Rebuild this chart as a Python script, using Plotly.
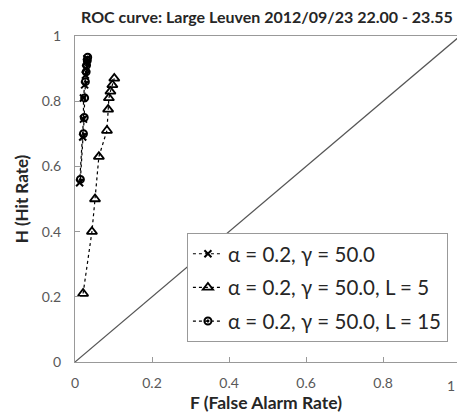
import plotly.graph_objects as go

# ROC points (False Alarm Rate F, Hit Rate H) for each parameter setting
f_base = [0.012, 0.020, 0.022, 0.022, 0.025, 0.027, 0.028, 0.030, 0.031]
h_base = [0.55, 0.69, 0.745, 0.81, 0.85, 0.88, 0.90, 0.92, 0.93]

f_l5 = [0.021, 0.044, 0.052, 0.062, 0.083, 0.086, 0.088, 0.092, 0.097, 0.102]
h_l5 = [0.21, 0.40, 0.50, 0.63, 0.71, 0.775, 0.81, 0.83, 0.85, 0.87]

f_l15 = [0.014, 0.022, 0.024, 0.025, 0.027, 0.029, 0.030, 0.032, 0.033]
h_l15 = [0.56, 0.70, 0.75, 0.81, 0.86, 0.89, 0.91, 0.925, 0.935]

names = ["α = 0.2, γ = 50.0", "α = 0.2, γ = 50.0, L = 5", "α = 0.2, γ = 50.0, L = 15"]

# no-skill diagonal
diag = [0, 1]

x_ticks = [0, 0.2, 0.4, 0.6, 0.8]
y_ticks = [0, 0.2, 0.4, 0.6, 0.8, 1]

font = "Lato, 'Open Sans', sans-serif"
grey = "#595959"
dark = "#262626"

fig = go.Figure()
fig.add_trace(go.Scatter(x=diag, y=diag, mode="lines", showlegend=False,
                         line=dict(color="#555555", width=1.2), hoverinfo="skip"))
fig.add_trace(go.Scatter(x=f_base, y=h_base, name=names[0], legendgroup="a",
                         mode="lines+markers",
                         line=dict(color="black", width=1.2, dash="dot"),
                         marker=dict(symbol="x-thin", size=7, line=dict(color="black", width=2))))
fig.add_trace(go.Scatter(x=f_l5, y=h_l5, name=names[1], legendgroup="b",
                         mode="lines+markers",
                         line=dict(color="black", width=1.2, dash="dot"),
                         marker=dict(symbol="triangle-up-open", size=9, line=dict(color="black", width=1.8))))
fig.add_trace(go.Scatter(x=f_l15, y=h_l15, name=names[2], legendgroup="c",
                         mode="lines+markers",
                         line=dict(color="black", width=1.2, dash="dot"),
                         marker=dict(symbol="circle-open-dot", size=7, line=dict(color="black", width=2))))

# the "1" tick label at the right edge of the x axis
fig.add_annotation(x=1.0, y=0, xref="paper", yref="paper", text="1", showarrow=False,
                   xanchor="right", yanchor="top", yshift=-13,
                   font=dict(family=font, size=14, color=grey))

fig.update_layout(
    width=457, height=416,
    margin=dict(l=75, r=0, t=36, b=54),
    paper_bgcolor="white", plot_bgcolor="white",
    font=dict(family=font, color=grey),
    title=dict(text="<b>ROC curve: Large Leuven 2012/09/23 22.00 - 23.55</b>",
               x=0.584, xanchor="center", y=0.958, yanchor="middle", yref="container",
               font=dict(family=font, size=16, color=dark)),
    legend=dict(x=0.293, y=0.396, xanchor="left", yanchor="top",
                bgcolor="white", bordercolor="#999999", borderwidth=1,
                font=dict(family=font, size=20.5, color=dark),
                tracegroupgap=4, traceorder="grouped", itemwidth=30),
    xaxis=dict(range=[0, 0.992], tickvals=x_ticks, ticktext=["0", "0.2", "0.4", "0.6", "0.8"],
               showgrid=False, zeroline=False, showline=True, linecolor="#999999", linewidth=1,
               mirror=True, ticks="inside", ticklen=5, tickcolor="#999999",
               ticklabelstandoff=8,
               tickfont=dict(family=font, size=14, color=grey),
               title=dict(text="<b>F (False Alarm Rate)</b>", standoff=6,
                          font=dict(family=font, size=17.5, color=dark))),
    yaxis=dict(range=[0, 1], tickvals=y_ticks, ticktext=["0", "0.2", "0.4", "0.6", "0.8", "1"],
               showgrid=False, zeroline=False, showline=True, linecolor="#999999", linewidth=1,
               ticks="inside", ticklen=5, tickcolor="#999999",
               ticklabelstandoff=10,
               tickfont=dict(family=font, size=14, color=grey),
               title=dict(text="<b>H (Hit Rate)</b>", standoff=8,
                          font=dict(family=font, size=17, color=dark))),
)

fig.write_html("out.html")
